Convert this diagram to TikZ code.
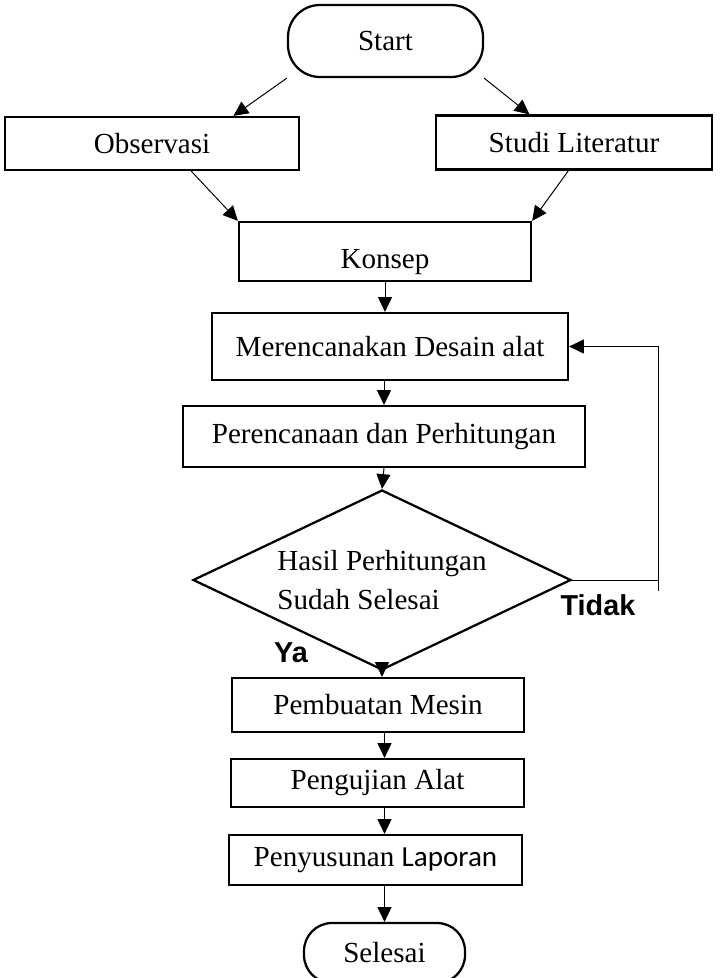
\documentclass[tikz,border=0pt]{standalone}
\usepackage{fontspec}
\setmainfont{Liberation Serif}
\newfontfamily\arialb{Liberation Sans}
\newfontfamily\calibri{Carlito}
\usetikzlibrary{shapes.geometric, arrows.meta, calc}

\begin{document}
\begin{tikzpicture}[x=0.25mm, y=-0.25mm,
    font=\fontsize{20.7}{24}\selectfont,
    box/.style={draw, line width=1.6pt, inner sep=0pt, minimum width=#1},
    term/.style={draw, line width=1.6pt, rounded corners=8mm, inner sep=0pt},
    dec/.style={draw, diamond, line width=1.6pt, inner sep=0pt, shape aspect=2.1,
        minimum width=94.5mm, minimum height=45mm, align=left,
        font=\fontsize{20.7}{27.7}\selectfont},
    arr/.style={-{Triangle[length=10.5pt, width=10pt]}, line width=0.7pt},
    lbl/.style={font=\arialb\bfseries\fontsize{20.5}{24}\selectfont}]
    \useasboundingbox (0,0) rectangle (722,978);

    \node[term, minimum width=48.75mm, minimum height=18mm] (start) at (385.5,41) {Start};
    \node[box=73.5mm, minimum height=13.25mm] (obs) at (152,143.5) {Observasi};
    \node[box=69mm, minimum height=13.5mm] (stu) at (574,142.5) {Studi Literatur};
    \node[box=73mm, minimum height=14.75mm, text height=28pt] (kon) at (385,251.5) {Konsep};
    \node[box=89mm, minimum height=16.75mm] (des) at (390,346.5) {Merencanakan Desain alat};
    \node[box=100.5mm, minimum height=15.25mm] (per) at (384,436.5) {Perencanaan dan Perhitungan};
    \node[dec] (cek) at (382,580) {Hasil Perhitungan\\Sudah Selesai};
    \node[box=73mm, minimum height=13.5mm] (buat) at (378,705) {Pembuatan Mesin};
    \node[box=73.25mm, minimum height=12mm] (uji) at (377.5,783) {Pengujian Alat};
    \node[box=73.25mm, minimum height=12.5mm] (lap) at (375.5,860) {Penyusunan {\calibri Laporan}};
    \node[term, rounded corners=7mm, minimum width=40.25mm, minimum height=15mm] (fin) at (384.5,953) {Selesai};

    \node[lbl] (tdk) at (598,605) {Tidak};
    \node[lbl] (ya) at (291,653) {Ya};

    \draw[arr] (start.south west) -- ($(obs.north)!0.55!(obs.north east)$);
    \draw[arr] (start.south east) -- ($(stu.north)!0.32!(stu.north west)$);
    \draw[arr] ($(obs.south)!0.265!(obs.south east)$) -- (kon.north west);
    \draw[arr] ($(stu.south)!0.04!(stu.south west)$) -- (kon.north east);
    \draw[arr] (kon.south) -- (kon.south |- des.north);
    \draw[arr] (per.north |- des.south) -- (per.north);
    \draw[arr] (per.south) -- (cek.north);
    \draw[arr] (cek.south) -- (cek.south |- buat.north);
    \draw[arr] (buat.south -| fin.north) -- (uji.north -| fin.north);
    \draw[arr] (uji.south -| fin.north) -- (lap.north -| fin.north);
    \draw[arr] (lap.south -| fin.north) -- (fin.north);

    % jalur kembali bila belum selesai
    \coordinate (fb) at (658,591);
    \draw[line width=0.7pt] (cek.east) -- (cek.east -| fb);
    \draw[arr] (fb) |- (des.east);
\end{tikzpicture}
\end{document}
